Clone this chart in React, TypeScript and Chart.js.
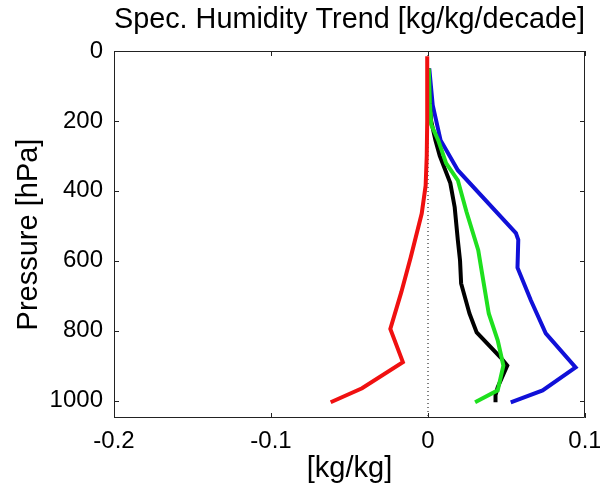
import React, { useEffect, useRef } from 'react';
import { Chart, registerables } from 'chart.js';

Chart.register(...registerables);

// ---- text ----
const chartTitle = 'Spec. Humidity Trend [kg/kg/decade]';
const xAxisTitle = '[kg/kg]';
const yAxisTitle = 'Pressure [hPa]';

// ---- ticks ----
const xTickValues = [-0.2, -0.1, 0, 0.1];
const yTickValues = [0, 200, 400, 600, 800, 1000];

// ---- series (pressure [hPa], trend [kg/kg]) ----
const redPressure = [15, 100, 200, 300, 385, 465, 590, 690, 795, 890, 965, 1005];
const redTrend = [-0.0005, -0.0005, -0.0005, -0.0008, -0.0015, -0.004, -0.011, -0.017, -0.024, -0.016, -0.042, -0.062];

const blackPressure = [50, 150, 200, 255, 300, 378, 447, 541, 599, 665, 751, 805, 877, 900, 962, 985, 1005];
const blackTrend = [0.0003, 0.001, 0.002, 0.0047, 0.0075, 0.0142, 0.017, 0.019, 0.0204, 0.0211, 0.0264, 0.031, 0.0463, 0.0505, 0.0444, 0.043, 0.043];

const greenPressure = [50, 150, 210, 255, 321, 370, 460, 570, 665, 751, 828, 900, 971, 1005];
const greenTrend = [0.0005, 0.0012, 0.002, 0.0065, 0.0115, 0.019, 0.0245, 0.032, 0.0355, 0.0387, 0.0444, 0.048, 0.0444, 0.03];

const bluePressure = [50, 155, 255, 341, 521, 540, 620, 713, 808, 905, 971, 1005];
const blueTrend = [0.0008, 0.003, 0.008, 0.019, 0.056, 0.0575, 0.057, 0.0655, 0.075, 0.094, 0.073, 0.0527];

const zeroLinePressure = [0, 1050];
const zeroLineTrend = [0, 0];

const FONT = "'Liberation Sans', Arial, Helvetica, sans-serif";

function toPoints(trend: number[], pressure: number[]) {
  return pressure.map((p, i) => ({ x: trend[i], y: p }));
}

const framePlugin = {
  id: 'matlabFrame',
  afterDraw(chart: any) {
    const { ctx, chartArea: a, scales } = chart;
    const xs = scales.x;
    const ys = scales.y;
    const len = 5;
    ctx.save();
    ctx.strokeStyle = '#222';
    ctx.lineWidth = 1;
    ctx.beginPath();
    ctx.rect(a.left + 0.5, a.top + 0.5, a.right - a.left - 1, a.bottom - a.top - 1);
    xs.ticks.forEach((t: any) => {
      const px = Math.round(xs.getPixelForValue(t.value)) + 0.5;
      ctx.moveTo(px, a.bottom);
      ctx.lineTo(px, a.bottom - len);
      ctx.moveTo(px, a.top);
      ctx.lineTo(px, a.top + len);
    });
    ys.ticks.forEach((t: any) => {
      const py = Math.round(ys.getPixelForValue(t.value)) + 0.5;
      ctx.moveTo(a.left, py);
      ctx.lineTo(a.left + len, py);
      ctx.moveTo(a.right, py);
      ctx.lineTo(a.right - len, py);
    });
    ctx.stroke();
    ctx.restore();
  },
};

export default function App() {
  const canvasRef = useRef<HTMLCanvasElement | null>(null);

  useEffect(() => {
    const canvas = canvasRef.current;
    if (!canvas) return;
    const line = (label: string, color: string, trend: number[], pressure: number[], order: number) => ({
      label,
      data: toPoints(trend, pressure),
      showLine: true,
      borderColor: color,
      backgroundColor: color,
      borderWidth: 4,
      pointRadius: 0,
      tension: 0,
      borderJoinStyle: 'miter' as const,
      order,
    });
    const chart = new Chart(canvas, {
      type: 'scatter',
      data: {
        datasets: [
          line('red', '#f01010', redTrend, redPressure, 0),
          line('green', '#1ee01e', greenTrend, greenPressure, 1),
          line('black', '#000000', blackTrend, blackPressure, 2),
          line('blue', '#1010d8', blueTrend, bluePressure, 3),
          {
            label: 'zero',
            data: toPoints(zeroLineTrend, zeroLinePressure),
            showLine: true,
            borderColor: '#000',
            borderWidth: 1,
            borderDash: [1, 3],
            pointRadius: 0,
            order: 4,
          },
        ],
      },
      options: {
        responsive: false,
        animation: false,
        devicePixelRatio: 1,
        layout: { padding: { left: 0, right: 15, top: 0, bottom: 0 } },
        plugins: {
          legend: { display: false },
          tooltip: { enabled: false },
          title: {
            display: true,
            text: chartTitle,
            fullSize: false,
            color: '#000',
            font: { family: FONT, size: 30, weight: 'normal', lineHeight: 1.2 },
            padding: { top: 2, bottom: 13 },
          },
        },
        scales: {
          x: {
            type: 'linear',
            min: -0.2,
            max: 0.1,
            grid: { display: false, drawTicks: false },
            border: { display: false },
            afterBuildTicks: (scale: any) => {
              scale.ticks = xTickValues.map((value) => ({ value }));
            },
            afterFit: (scale: any) => {
              scale.height = 74;
              scale.paddingLeft = 0;
              scale.paddingRight = 0;
            },
            ticks: {
              padding: 9,
              color: '#000',
              font: { family: FONT, size: 24 },
              maxRotation: 0,
              callback: (v: any) => String(Math.round(Number(v) * 10) / 10),
            },
            title: {
              display: true,
              text: xAxisTitle,
              color: '#000',
              font: { family: FONT, size: 29, lineHeight: 1.2 },
              padding: { top: 0, bottom: 6 },
            },
          },
          y: {
            type: 'linear',
            reverse: true,
            min: 0,
            max: 1050,
            grid: { display: false, drawTicks: false },
            border: { display: false },
            afterBuildTicks: (scale: any) => {
              scale.ticks = yTickValues.map((value) => ({ value }));
            },
            afterFit: (scale: any) => {
              scale.width = 114;
              scale.paddingTop = 0;
              scale.paddingBottom = 0;
            },
            ticks: {
              padding: 11,
              color: '#000',
              font: { family: FONT, size: 24 },
              callback: (v: any) => String(v),
            },
            title: {
              display: true,
              text: yAxisTitle,
              color: '#000',
              font: { family: FONT, size: 29, lineHeight: 1.2 },
              padding: { top: 12, bottom: 0 },
            },
          },
        },
      },
      plugins: [framePlugin],
    } as any);
    return () => chart.destroy();
  }, []);

  return (
    <div style={{ position: 'absolute', left: 0, top: 0, width: 600, height: 492, background: '#fff' }}>
      <canvas ref={canvasRef} width={600} height={492} style={{ display: 'block', width: 600, height: 492 }} />
    </div>
  );
}
